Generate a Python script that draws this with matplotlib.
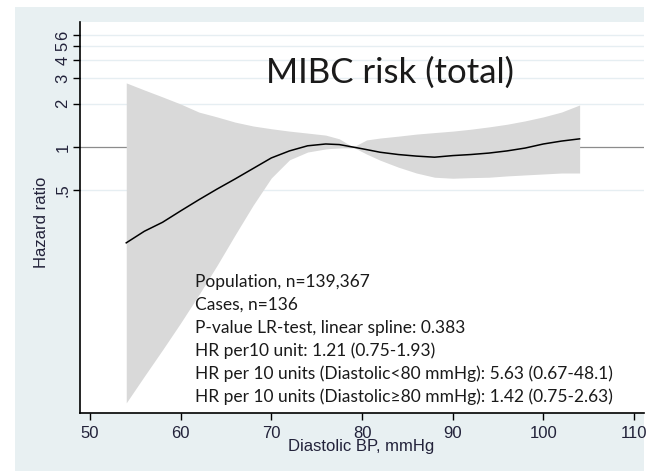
import numpy as np
import matplotlib
matplotlib.use("Agg")
import matplotlib.pyplot as plt
from matplotlib.patches import Rectangle

# Spline estimate of hazard ratio vs diastolic BP with 95% CI
dbp = [54, 56, 58, 60, 62, 64, 66, 68, 70, 72, 74, 76, 77.5, 79, 80.5, 82,
       84, 86, 88, 90, 92, 94, 96, 98, 100, 102, 104]
hr = [0.216, 0.26, 0.30, 0.36, 0.43, 0.51, 0.60, 0.71, 0.84, 0.94, 1.02, 1.05, 1.04, 1.0, 0.96, 0.92,
      0.887, 0.865, 0.85, 0.872, 0.887, 0.908, 0.94, 0.984, 1.05, 1.10, 1.14]
hr_upper = [2.79, 2.49, 2.23, 1.99, 1.75, 1.62, 1.49, 1.40, 1.34, 1.29, 1.25, 1.21, 1.14, 1.0, 1.12, 1.155,
            1.19, 1.23, 1.26, 1.29, 1.33, 1.38, 1.44, 1.52, 1.62, 1.75, 1.96]
hr_lower = [0.0167, 0.0256, 0.039, 0.06, 0.094, 0.15, 0.245, 0.395, 0.61, 0.815, 0.923, 0.97, 0.99, 1.0, 0.894, 0.81,
            0.725, 0.66, 0.617, 0.607, 0.613, 0.617, 0.63, 0.64, 0.65, 0.66, 0.66]

y_ticks = [0.5, 1, 2, 3, 4, 5, 6]
y_ticklabels = [".5", "1", "2", "3", "4", "5", "6"]
x_ticks = [50, 60, 70, 80, 90, 100, 110]

title = "MIBC risk (total)"
notes = [
    "Population, n=139,367",
    "Cases, n=136",
    "P-value LR-test, linear spline: 0.383",
    "HR per10 unit: 1.21 (0.75-1.93)",
    "HR per 10 units (Diastolic<80 mmHg): 5.63 (0.67-48.1)",
    "HR per 10 units (Diastolic\u226580 mmHg): 1.42 (0.75-2.63)",
]

W, H = 648, 471
fig = plt.figure(figsize=(W / 100, H / 100), dpi=100)
fig.patch.set_facecolor("white")
# graph region panel behind the plot area
fig.patches.append(Rectangle((15 / W, 0), (644 - 15) / W, (471 - 7) / H,
                             transform=fig.transFigure, facecolor="#e8f0f2",
                             edgecolor="none", zorder=-10))

ax = fig.add_axes([80 / W, 1 - 413 / H, (644 - 80) / W, (413 - 22) / H])
ax.set_zorder(1)
ax.set_facecolor("white")
ax.set_yscale("log")
ax.set_ylim(0.0142, 7.39)
ax.set_xlim(48.9, 111.1)

for yt in [0.5, 2, 3, 4, 5, 6]:
    ax.axhline(yt, color="#e6eef2", lw=1.0, zorder=1)
ax.axhline(1, color="#8c8c8c", lw=0.9, zorder=1)

ax.fill_between(dbp, hr_lower, hr_upper, color="#d9d9d9", lw=0, zorder=2)
ax.plot(dbp, hr, color="black", lw=1.1, zorder=3)

ax.set_yticks(y_ticks)
ax.set_yticklabels(y_ticklabels, rotation=90, va="center")
ax.yaxis.set_minor_locator(matplotlib.ticker.NullLocator())
ax.set_xticks(x_ticks)
ax.tick_params(axis="both", direction="out", length=5, width=1, labelsize=12,
               colors="black")
ax.tick_params(axis="y", pad=2)
ax.tick_params(axis="x", pad=4)
for lab in ax.get_xticklabels() + ax.get_yticklabels():
    lab.set_fontfamily("Liberation Sans")
    lab.set_color("#22223a")

for s in ["top", "right"]:
    ax.spines[s].set_visible(False)
for s in ["left", "bottom"]:
    ax.spines[s].set_linewidth(1.2)

fig.text(41 / W, 1 - 222 / H, "Hazard ratio", rotation=90, ha="center", va="center",
         fontsize=12, family="Liberation Sans", color="#22223a")
fig.text(361 / W, 1 - 447 / H, "Diastolic BP, mmHg", ha="center", va="center",
         fontsize=12, family="Liberation Sans", color="#22223a")

ax.text(390 / W, 1 - 73 / H, title, ha="center", va="center", fontsize=25,
        family="Lato", color="#1a1a1a", transform=fig.transFigure, zorder=5)

for i, line in enumerate(notes):
    ax.text(195 / W, 1 - (282 + i * 23) / H, line, ha="left", va="center",
            fontsize=12.5, family=["Lato", "DejaVu Sans"], color="#1a1a1a",
            transform=fig.transFigure, zorder=5)

fig.savefig("out.png", dpi=100)
